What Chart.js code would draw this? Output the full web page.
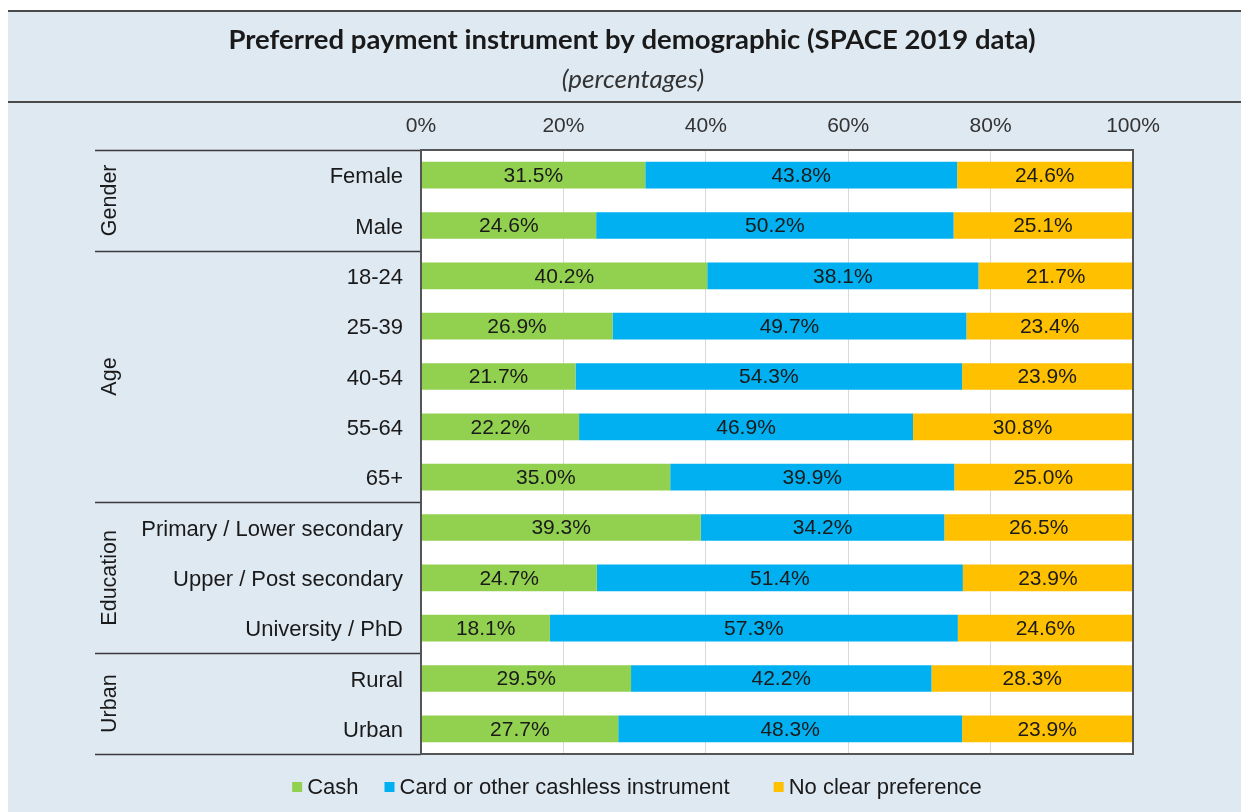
<!DOCTYPE html>
<html>
<head>
<meta charset="utf-8">
<script src="https://cdn.jsdelivr.net/npm/chart.js@4.4.1/dist/chart.umd.min.js"></script>
<style>
  html, body { margin: 0; padding: 0; background: #ffffff; overflow: hidden; }
  canvas { display: block; }
</style>
</head>
<body>
<canvas id="chart" width="1241" height="812"></canvas>
<script>
// Categories (rows, top to bottom) and their demographic groups
const categories = ['Female', 'Male', '18-24', '25-39', '40-54', '55-64', '65+',
  'Primary / Lower secondary', 'Upper / Post secondary', 'University / PhD', 'Rural', 'Urban'];
const groupNames = ['Gender', 'Age', 'Education', 'Urban'];
const groupSizes = [2, 5, 3, 2];

// Shares of respondents (%)
const cash = [31.5, 24.6, 40.2, 26.9, 21.7, 22.2, 35.0, 39.3, 24.7, 18.1, 29.5, 27.7];
const card = [43.8, 50.2, 38.1, 49.7, 54.3, 46.9, 39.9, 34.2, 51.4, 57.3, 42.2, 48.3];
const noPreference = [24.6, 25.1, 21.7, 23.4, 23.9, 30.8, 25.0, 26.5, 23.9, 24.6, 28.3, 23.9];

const seriesNames = ['Cash', 'Card or other cashless instrument', 'No clear preference'];
const seriesColors = ['#92d050', '#00b0f0', '#ffc000'];
const xTickValues = [0, 20, 40, 60, 80, 100];

const titleText = 'Preferred payment instrument by demographic (SPACE 2019 data)';
const subtitleText = '(percentages)';

const ARIAL = '"Liberation Sans", Arial, sans-serif';
const PANEL = '#dfe9f2';
const RULE = '#4a4a4a';

// Background panel, header rules, titles and white plot area
const panelPlugin = {
  id: 'panel',
  beforeDraw(chart) {
    const { ctx, chartArea: a, width, height } = chart;
    ctx.save();
    ctx.fillStyle = '#ffffff';
    ctx.fillRect(0, 0, width, height);
    ctx.fillStyle = PANEL;
    ctx.fillRect(8, 10, width - 8, height - 10);

    ctx.strokeStyle = RULE;
    ctx.lineWidth = 2;
    ctx.beginPath();
    ctx.moveTo(8, 11); ctx.lineTo(width, 11);
    ctx.moveTo(8, 102); ctx.lineTo(width, 102);
    ctx.stroke();

    ctx.fillStyle = '#1a1a1a';
    ctx.textAlign = 'center';
    ctx.textBaseline = 'middle';
    ctx.font = 'bold 27.5px Lato, "Open Sans", sans-serif';
    ctx.fillText(titleText, 632, 40);
    ctx.fillStyle = '#333333';
    ctx.font = 'italic 26px Lato, "Open Sans", sans-serif';
    ctx.fillText(subtitleText, 633, 80);

    ctx.fillStyle = '#ffffff';
    ctx.fillRect(a.left, a.top, a.right - a.left, a.bottom - a.top);
    ctx.restore();
  }
};

// Value labels centred in each bar segment
const valueLabelPlugin = {
  id: 'valueLabels',
  afterDatasetsDraw(chart) {
    const { ctx } = chart;
    ctx.save();
    ctx.font = '21px ' + ARIAL;
    ctx.fillStyle = '#1a1a1a';
    ctx.textAlign = 'center';
    ctx.textBaseline = 'middle';
    chart.data.datasets.forEach((ds, di) => {
      const meta = chart.getDatasetMeta(di);
      meta.data.forEach((bar, i) => {
        const v = ds.data[i];
        const right = Math.min(bar.x, chart.chartArea.right);
        const cx = (right + bar.base) / 2;
        ctx.fillText(v.toFixed(1) + '%', cx, bar.y + 1);
      });
    });
    ctx.restore();
  }
};

// Plot frame, group separators, rotated group names and legend
const framePlugin = {
  id: 'frame',
  afterDraw(chart) {
    const { ctx, chartArea: a, scales } = chart;
    const y = scales.y;
    ctx.save();

    // group separators
    const boundaries = [a.top];
    let idx = 0;
    groupSizes.forEach(n => {
      idx += n;
      if (idx < categories.length) {
        boundaries.push((y.getPixelForValue(idx - 1) + y.getPixelForValue(idx)) / 2);
      } else {
        boundaries.push(a.bottom);
      }
    });
    ctx.strokeStyle = '#3a3a3a';
    ctx.lineWidth = 1.5;
    ctx.beginPath();
    boundaries.forEach(b => {
      const yy = Math.round(b) + 0.5;
      ctx.moveTo(95, yy);
      ctx.lineTo(a.left, yy);
    });
    ctx.stroke();

    // plot frame
    ctx.strokeStyle = '#555555';
    ctx.lineWidth = 2;
    ctx.strokeRect(a.left, a.top, a.right - a.left, a.bottom - a.top);

    // group names
    ctx.fillStyle = '#1a1a1a';
    ctx.font = '21.5px ' + ARIAL;
    ctx.textAlign = 'center';
    ctx.textBaseline = 'middle';
    groupNames.forEach((g, gi) => {
      const cy = (boundaries[gi] + boundaries[gi + 1]) / 2;
      ctx.save();
      ctx.translate(110, cy);
      ctx.rotate(-Math.PI / 2);
      ctx.fillText(g, 0, 0);
      ctx.restore();
    });

    // legend
    ctx.font = '22px ' + ARIAL;
    ctx.textAlign = 'left';
    const box = 10, gapBox = 5, gapItems = [26, 44];
    const widths = chart.data.datasets.map(ds => ctx.measureText(ds.label).width);
    const total = widths.reduce((s, w) => s + box + gapBox + w, 0) + gapItems[0] + gapItems[1];
    let lx = 637 - total / 2;
    const ly = 787;
    chart.data.datasets.forEach((ds, di) => {
      ctx.fillStyle = ds.backgroundColor;
      ctx.fillRect(lx, ly - box / 2, box, box);
      lx += box + gapBox;
      ctx.fillStyle = '#1a1a1a';
      ctx.fillText(ds.label, lx, ly + 1);
      lx += widths[di] + (gapItems[di] || 0);
    });

    ctx.restore();
  }
};

const seriesData = [cash, card, noPreference];

new Chart(document.getElementById('chart'), {
  type: 'bar',
  data: {
    labels: categories,
    datasets: seriesNames.map((name, i) => ({
      label: name,
      data: seriesData[i],
      backgroundColor: seriesColors[i],
      borderWidth: 0,
      barPercentage: 0.53,
      categoryPercentage: 1.0
    }))
  },
  options: {
    indexAxis: 'y',
    responsive: false,
    animation: false,
    devicePixelRatio: 1,
    layout: { padding: { left: 0, right: 108, top: 0, bottom: 58 } },
    plugins: {
      legend: { display: false },
      title: { display: false },
      tooltip: { enabled: false }
    },
    scales: {
      x: {
        position: 'top',
        stacked: true,
        min: 0,
        max: 100,
        afterBuildTicks(scale) {
          scale.ticks = xTickValues.map(v => ({ value: v }));
        },
        afterFit(scale) { scale.height = 150; },
        ticks: {
          callback: v => v + '%',
          font: { size: 21, family: ARIAL },
          color: '#333333',
          padding: 11,
          maxRotation: 0
        },
        grid: { color: '#d9d9d9', lineWidth: 1, drawTicks: false },
        border: { display: false }
      },
      y: {
        stacked: true,
        afterFit(scale) { scale.width = 421; },
        ticks: {
          font: { size: 22, family: ARIAL },
          color: '#1a1a1a',
          padding: 18,
          labelOffset: 2
        },
        grid: { display: false, drawTicks: false },
        border: { display: false }
      }
    }
  },
  plugins: [panelPlugin, valueLabelPlugin, framePlugin]
});
</script>
</body>
</html>
